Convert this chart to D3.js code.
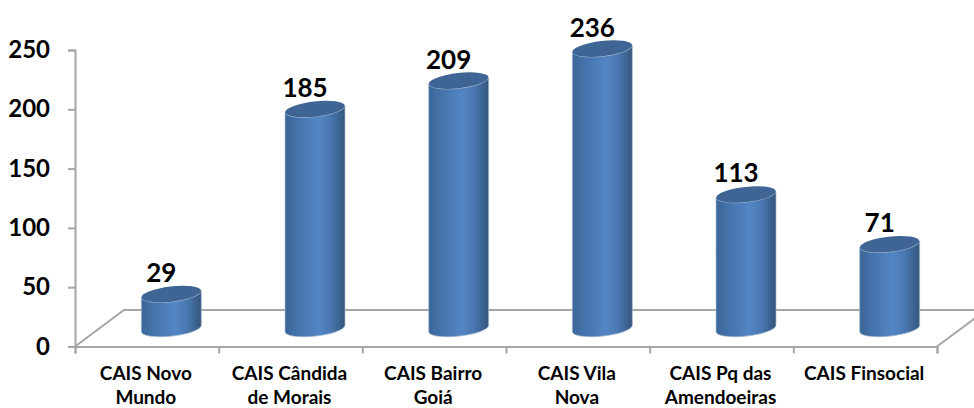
<!DOCTYPE html>
<html><head><meta charset="utf-8">
<script src="https://cdn.jsdelivr.net/npm/d3@7"></script>
<style>html,body{margin:0;padding:0;background:#fff}svg{display:block}text{font-family:Lato,"Open Sans",sans-serif;font-weight:700;fill:#000}</style>
</head><body><svg id="c" width="974" height="408"></svg>
<script>
const categories=[["CAIS Novo","Mundo"],["CAIS Cândida","de Morais"],["CAIS Bairro","Goiá"],["CAIS Vila","Nova"],["CAIS Pq das","Amendoeiras"],["CAIS Finsocial"]];
const values=[29,185,209,236,113,71];
const yTicks=[0,50,100,150,200,250];
const W=974,H=408,L=75,R=937,Y0=346.5,Y1=50;
const svg=d3.select("#c");
const x=d3.scaleBand().domain(d3.range(categories.length)).range([L,R]);
const y=d3.scaleLinear().domain([0,250]).range([Y0,Y1]);
const grey="#a6a6a6";
const defs=svg.append("defs");
const g=defs.append("linearGradient").attr("id","side");
[[0,"#3a6696"],[.15,"#426fa6"],[.55,"#5386c6"],[.75,"#4a79b2"],[.92,"#3a618e"],[1,"#345679"]].forEach(s=>g.append("stop").attr("offset",s[0]).attr("stop-color",s[1]));
// floor
const dx=49,dy=-36.5;
svg.append("path").attr("d",`M${L},${Y0}L${L+dx},${Y0+dy}L${W+2},${Y0+dy}`).attr("fill","none").attr("stroke",grey).attr("stroke-width",2);
svg.append("path").attr("d",`M${R},${Y0}L${R+dx},${Y0+dy}`).attr("fill","none").attr("stroke",grey).attr("stroke-width",2);
// axes
const ax=svg.append("g").attr("transform",`translate(${L},0)`).call(d3.axisLeft(y).tickValues(yTicks).tickSize(7).tickPadding(18).tickFormat(d3.format("d")));
ax.selectAll("line,path").attr("stroke",grey).attr("stroke-width",2);
ax.selectAll("text").attr("font-size",24).attr("fill","#000").style("font-family","Lato").style("font-weight",700);
const bx=svg.append("g").attr("transform",`translate(0,${Y0})`).call(d3.axisBottom(d3.scaleLinear().domain([0,6]).range([L,R])).ticks(6).tickSize(7).tickFormat(""));
bx.selectAll("line,path").attr("stroke",grey).attr("stroke-width",2);
// cylinders
const rx=30,ry=7.6,rot=-6.5,off=-18,edge=3,shiftX=24.5;
const rows=values.map((v,i)=>({v,i,cx:x(i)+x.bandwidth()/2+shiftX,top:y(v)+off,bot:y(0)+off}));
const cyl=svg.append("g").selectAll("g").data(rows).join("g");
cyl.append("path").attr("fill","url(#side)").attr("stroke","#a9bdd3").attr("stroke-width",.7)
 .attr("d",d=>`M${d.cx-rx},${d.top+edge}L${d.cx-rx},${d.bot+edge}A${rx} ${ry} ${rot} 0 0 ${d.cx+rx},${d.bot-edge}L${d.cx+rx},${d.top-edge}A${rx} ${ry} ${rot} 0 1 ${d.cx-rx},${d.top+edge}Z`);
cyl.append("ellipse").attr("cx",d=>d.cx).attr("cy",d=>d.top).attr("rx",rx).attr("ry",ry)
 .attr("transform",d=>`rotate(${rot} ${d.cx} ${d.top})`).attr("fill","#3e6594");
// value labels
svg.append("g").selectAll("text").data(rows).join("text").attr("x",d=>d.cx-10).attr("y",d=>y(d.v)-30)
 .attr("text-anchor","middle").attr("font-size",26).text(d=>d.v);
// category labels
const lab=svg.append("g").selectAll("text").data(categories).join("text").attr("text-anchor","middle").attr("font-size",19)
 .attr("transform",(d,i)=>`translate(${x(i)+x.bandwidth()/2-1},380)`);
lab.selectAll("tspan").data(d=>d).join("tspan").attr("x",0).attr("y",(d,i)=>i*24).text(d=>d);
</script></body></html>
